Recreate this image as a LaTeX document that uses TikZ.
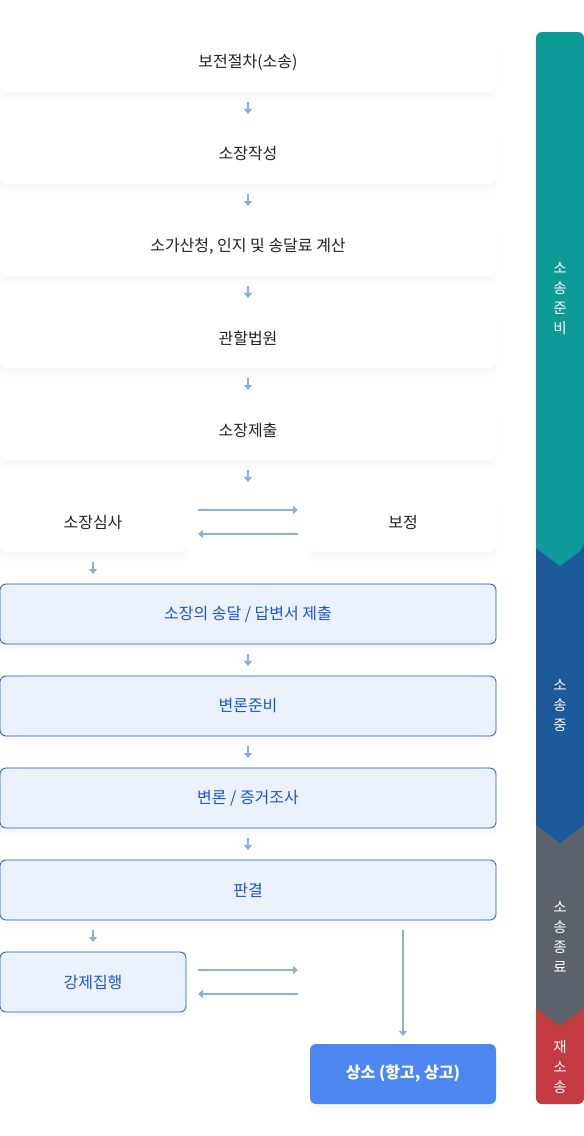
\documentclass[tikz,border=0pt]{standalone}
\usepackage{xcolor}
\usepackage{fontspec}
\setmainfont{Noto Sans CJK KR}
\usetikzlibrary{positioning,arrows.meta,shadows}

\definecolor{arrowc}{HTML}{8EAED6}
\definecolor{prepc}{HTML}{0E9A98}
\definecolor{suitc}{HTML}{1D5A9C}
\definecolor{endc}{HTML}{5B626C}
\definecolor{againc}{HTML}{C43A41}
\definecolor{lightc}{HTML}{EBF2FD}
\definecolor{linec}{HTML}{1B55D6}
\definecolor{appealc}{HTML}{4D88F0}
\definecolor{textc}{HTML}{222222}

\tikzset{
    halo/.style={drop shadow={opacity=0.03, shadow xshift=0pt, shadow yshift=-4pt},
                 drop shadow={opacity=0.025, shadow xshift=0pt, shadow yshift=-9pt}},
    stage/.style={rectangle, rounded corners=6pt, fill=white, halo, minimum width=496pt, minimum height=60pt,
                  inner sep=0pt, outer sep=0pt, text=textc, font=\fontsize{16}{19}\selectfont},
    court/.style={stage, draw=linec, line width=0.8pt, fill=lightc, text=linec},
    arr/.style={draw=arrowc, line width=1.6pt, -{Triangle[width=8pt,length=5pt]}, shorten <=10pt, shorten >=10pt},
    barlabel/.style={text=white, align=center, font=\fontsize{14.5}{20}\selectfont}
}

\begin{document}
\begin{tikzpicture}[x=1pt, y=-1pt]
    \useasboundingbox (0,0) rectangle (584,1136);

    % left column
    \node[stage] (bojeon) at (248,62) {보전절차(소송)};
    \node[stage, below=32pt of bojeon] (jakseong) {소장작성};
    \node[stage, below=32pt of jakseong] (inji) {소가산청, 인지 및 송달료 계산};
    \node[stage, below=32pt of inji] (gwanhal) {관할법원};
    \node[stage, below=32pt of gwanhal] (jechul) {소장제출};
    \node[stage, minimum width=186pt, below right=32pt and 0pt of jechul.south west] (simsa) {소장심사};
    \node[stage, minimum width=186pt, below left=32pt and 0pt of jechul.south east] (bojeong) {보정};
    \node[court, below right=32pt and 0pt of simsa.south west] (songdal) {소장의 송달 / 답변서 제출};
    \node[court, below=32pt of songdal] (junbi) {변론준비};
    \node[court, below=32pt of junbi] (josa) {변론 / 증거조사};
    \node[court, below=32pt of josa] (pangyeol) {판결};
    \node[court, minimum width=186pt, below right=32pt and 0pt of pangyeol.south west] (gangje) {강제집행};
    \node[stage, draw=none, fill=appealc, text=white, font=\fontsize{16}{19}\selectfont\bfseries,
          minimum width=186pt, below left=124pt and 0pt of pangyeol.south east] (sangso) {상소 (항고, 상고)};
    \coordinate[right=124pt of gangje.east] (gjend);

    \draw[arr] (bojeon) -- (jakseong);
    \draw[arr] (jakseong) -- (inji);
    \draw[arr] (inji) -- (gwanhal);
    \draw[arr] (gwanhal) -- (jechul);
    \draw[arr] (jechul.south) -- (jechul.south |- simsa.north);
    \draw[arr, shorten <=12pt, shorten >=12pt] ([yshift=12pt]simsa.east) -- ([yshift=12pt]bojeong.west);
    \draw[arr, shorten <=12pt, shorten >=12pt] ([yshift=-12pt]bojeong.west) -- ([yshift=-12pt]simsa.east);
    \draw[arr] (simsa) -- (simsa.south |- songdal.north);
    \draw[arr] (songdal) -- (junbi);
    \draw[arr] (junbi) -- (josa);
    \draw[arr] (josa) -- (pangyeol);
    \draw[arr] (pangyeol.south -| gangje) -- (gangje);
    \draw[arr, shorten <=12pt, shorten >=12pt] ([yshift=12pt]gangje.east) -- ([yshift=12pt]gjend);
    \draw[arr, shorten <=12pt, shorten >=12pt] ([yshift=-12pt]gjend) -- ([yshift=-12pt]gangje.east);
    \draw[arr, shorten >=8pt] (pangyeol.south -| sangso.north) -- (sangso.north);

    % stage bar on the right
    \fill[againc, rounded corners=6pt] (536,990) -- (536,1104) -- (584,1104) -- (584,990) -- cycle;
    \fill[endc] (536,807) -- (536,1008) -- (560,1026) -- (584,1008) -- (584,807) -- cycle;
    \fill[suitc] (536,530) -- (536,825) -- (560,843) -- (584,825) -- (584,530) -- cycle;
    \fill[prepc, rounded corners=6pt] (536,548) -- (536,32) -- (584,32) -- (584,548) [sharp corners] -- (560,566) -- cycle;
    \node[barlabel] (prep) at (560,299) {소\\송\\준\\비};
    \node[barlabel] (suit) at (560,705) {소\\송\\중};
    \node[barlabel] (done) at (560,937) {소\\송\\종\\료};
    \node[barlabel] (again) at (560,1067) {재\\소\\송};
\end{tikzpicture}
\end{document}
